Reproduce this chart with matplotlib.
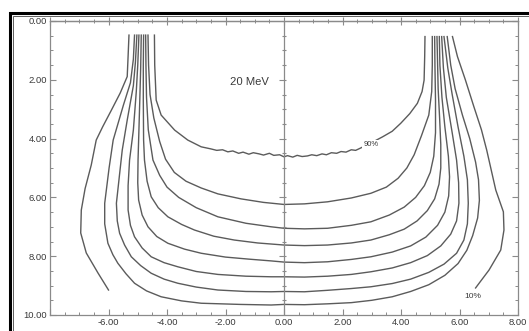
import numpy as np
import matplotlib.pyplot as plt
from matplotlib.lines import Line2D
from matplotlib.ticker import MultipleLocator

plt.rcParams['font.family'] = ['Liberation Sans', 'DejaVu Sans']

# isodose curves, 20 MeV electron beam (x = lateral cm, y = depth cm)
x90 = [-4.43, -4.42, -4.37, -4.20, -3.74, -3.29, -2.83, -2.50, -2.30, -2.10, -1.92, -1.75, -1.55, -1.40, -1.20,
       -1.05, -0.85, -0.70, -0.50, -0.35, -0.15, 0.00, 0.12, 0.30, 0.45, 0.62, 0.80, 0.95, 1.12, 1.30,
       1.45, 1.62, 1.80, 1.95, 2.12, 2.30, 2.45, 2.60, 2.97, 3.37, 3.70, 3.99, 4.30, 4.56, 4.72, 4.79, 4.81, 4.82]
y90 = [0.48, 1.50, 2.69, 3.20, 3.71, 4.05, 4.28, 4.35, 4.40, 4.38, 4.45, 4.42, 4.50, 4.46, 4.53,
       4.48, 4.52, 4.56, 4.50, 4.57, 4.55, 4.62, 4.58, 4.63, 4.57, 4.61, 4.59, 4.55, 4.58, 4.52,
       4.55, 4.48, 4.50, 4.44, 4.46, 4.38, 4.40, 4.33, 4.15, 3.94, 3.75, 3.48, 3.15, 2.80, 2.40, 2.01, 1.20, 0.53]

x80 = [-4.65, -4.63, -4.58, -4.45, -4.25, -4.05, -3.75, -3.35, -2.83, -2.26, -1.47, -0.70, 0.00,
       0.70, 1.49, 2.30, 2.97, 3.50, 3.90, 4.20, 4.45, 4.70, 4.95, 5.05, 5.07, 5.07]
y80 = [0.48, 1.50, 2.50, 3.30, 4.10, 4.70, 5.15, 5.45, 5.68, 5.88, 6.05, 6.17, 6.24,
       6.22, 6.15, 6.02, 5.86, 5.65, 5.35, 5.00, 4.55, 3.90, 3.20, 2.40, 1.50, 0.53]

x70 = [-4.73, -4.72, -4.70, -4.64, -4.48, -4.25, -4.00, -3.60, -3.00, -2.26, -1.30, -0.44, 0.00,
       0.70, 1.49, 2.30, 2.97, 3.60, 4.11, 4.50, 4.80, 5.00, 5.12, 5.18, 5.18, 5.16, 5.15]
y70 = [0.48, 1.50, 2.60, 3.70, 4.73, 5.25, 5.65, 6.00, 6.35, 6.66, 6.88, 7.00, 7.05,
       7.07, 7.05, 6.95, 6.83, 6.60, 6.33, 6.00, 5.60, 5.15, 4.60, 3.80, 2.70, 1.50, 0.53]

x60 = [-4.80, -4.81, -4.81, -4.80, -4.77, -4.68, -4.54, -4.30, -3.97, -3.50, -3.06, -2.40, -1.70, -0.90, 0.00,
       0.70, 1.49, 2.30, 2.97, 3.60, 4.11, 4.55, 4.90, 5.15, 5.30, 5.36, 5.36, 5.32, 5.27, 5.23]
y60 = [0.48, 1.50, 2.69, 4.05, 4.73, 5.45, 5.98, 6.35, 6.66, 6.92, 7.11, 7.32, 7.45, 7.55, 7.62,
       7.64, 7.62, 7.55, 7.45, 7.27, 7.08, 6.80, 6.45, 6.05, 5.55, 5.00, 4.20, 3.30, 2.30, 0.53]

x50 = [-4.88, -4.90, -4.93, -4.97, -4.99, -5.00, -4.97, -4.85, -4.65, -4.35, -3.97, -3.40, -2.83, -2.00, -1.20, -0.44, 0.00,
       0.70, 1.49, 2.30, 2.97, 3.70, 4.33, 4.85, 5.25, 5.50, 5.63, 5.66, 5.62, 5.50, 5.40, 5.33, 5.31]
y50 = [0.48, 1.60, 2.69, 4.05, 4.73, 5.50, 6.09, 6.60, 7.00, 7.33, 7.56, 7.76, 7.90, 8.03, 8.10, 8.16, 8.20,
       8.22, 8.19, 8.11, 8.02, 7.86, 7.65, 7.35, 6.95, 6.50, 5.95, 5.30, 4.60, 3.60, 2.60, 1.50, 0.53]

x40 = [-4.96, -5.00, -5.05, -5.15, -5.28, -5.33, -5.33, -5.25, -5.11, -4.85, -4.54, -4.10, -3.63, -3.00, -2.26, -1.30, -0.44, 0.00,
       0.70, 1.49, 2.30, 2.97, 3.70, 4.33, 4.90, 5.36, 5.70, 5.90, 5.98, 5.97, 5.90, 5.75, 5.55, 5.45, 5.39]
y40 = [0.48, 1.50, 2.40, 3.71, 4.73, 5.60, 6.43, 6.95, 7.34, 7.72, 8.02, 8.22, 8.36, 8.52, 8.62, 8.68, 8.70, 8.70,
       8.71, 8.68, 8.62, 8.53, 8.40, 8.22, 7.98, 7.65, 7.25, 6.80, 6.20, 5.50, 4.73, 3.80, 2.60, 1.60, 0.53]

x30 = [-5.03, -5.08, -5.15, -5.36, -5.53, -5.62, -5.73, -5.70, -5.62, -5.45, -5.22, -4.90, -4.54, -4.10, -3.63, -3.00, -2.26, -1.30, -0.44, 0.00,
       0.70, 1.49, 2.30, 2.97, 3.70, 4.33, 4.95, 5.47, 5.90, 6.15, 6.27, 6.30, 6.27, 6.15, 5.95, 5.75, 5.60, 5.47]
y30 = [0.48, 1.40, 2.20, 3.37, 4.39, 5.20, 6.20, 6.80, 7.22, 7.62, 8.02, 8.32, 8.58, 8.78, 8.92, 9.05, 9.15, 9.20, 9.21, 9.20,
       9.21, 9.16, 9.10, 9.04, 8.93, 8.78, 8.55, 8.27, 7.90, 7.45, 6.90, 6.20, 5.40, 4.60, 3.60, 2.50, 1.60, 0.53]

x20 = [-5.11, -5.15, -5.25, -5.49, -5.84, -5.98, -6.13, -6.13, -6.02, -5.85, -5.68, -5.40, -5.11, -4.70, -4.20, -3.50, -2.83, -1.50, -0.44, 0.00,
       0.70, 1.49, 2.30, 3.00, 3.70, 4.33, 4.95, 5.50, 5.95, 6.25, 6.45, 6.62, 6.68, 6.65, 6.55, 6.35, 6.10, 5.85, 5.70, 5.58]
y20 = [0.48, 1.30, 2.10, 2.86, 4.05, 5.00, 6.20, 6.90, 7.56, 7.95, 8.24, 8.60, 8.92, 9.18, 9.38, 9.52, 9.60, 9.64, 9.66, 9.64,
       9.65, 9.62, 9.58, 9.50, 9.38, 9.20, 8.97, 8.65, 8.25, 7.80, 7.30, 6.70, 6.10, 5.40, 4.80, 4.00, 3.20, 2.30, 1.50, 0.53]

x10_left = [-5.30, -5.33, -5.36, -5.60, -5.90, -6.20, -6.42, -6.59, -6.80, -6.93, -6.95, -6.76, -6.36, -6.00]
y10_left = [0.48, 1.20, 1.89, 2.45, 3.03, 3.60, 4.05, 4.90, 5.70, 6.43, 7.21, 7.89, 8.57, 9.15]
x10_right = [5.76, 5.93, 6.20, 6.49, 6.75, 6.93, 7.24, 7.50, 7.52, 7.41, 7.01, 6.67, 6.55]
y10_right = [0.53, 1.21, 2.00, 2.91, 3.70, 4.39, 5.75, 6.49, 7.11, 7.79, 8.47, 8.92, 9.08]

x_ticks = [-8, -6, -4, -2, 0, 2, 4, 6, 8]
y_ticks = [0, 2, 4, 6, 8, 10]

line_color = '#5b5b5b'
axis_color = '#8a8a8a'
text_color = '#3a3a3a'

fig = plt.figure(figsize=(5.29, 3.31), dpi=100)
ax = fig.add_axes([50 / 529, 1 - 315 / 331, (518 - 50) / 529, (315 - 21) / 331])

curves = [(x90, y90), (x80, y80), (x70, y70), (x60, y60), (x50, y50), (x40, y40),
          (x30, y30), (x20, y20), (x10_left, y10_left), (x10_right, y10_right)]
for xs, ys in curves:
    ax.plot(xs, ys, color=line_color, lw=1.0)

ax.set_xlim(-8, 8)
ax.set_ylim(10, 0)

# central axis with its own little ticks
ax.axvline(0, color=axis_color, lw=0.9)
minor_y = [v for v in np.arange(0.5, 10, 0.5) if v % 2 != 0]
ax.hlines(minor_y, -0.07, 0.07, color=axis_color, lw=0.8)
ax.hlines([2, 4, 6, 8], -0.16, 0.07, color=axis_color, lw=0.8)

ax.set_xticks(x_ticks)
ax.set_xticklabels(['' if v == -8 else f'{v:.2f}' for v in x_ticks])
ax.set_yticks(y_ticks)
ax.set_yticklabels([f'{v:.2f}' for v in y_ticks])
ax.xaxis.set_minor_locator(MultipleLocator(0.5))
ax.yaxis.set_minor_locator(MultipleLocator(0.5))
ax.tick_params(which='both', direction='in', right=True, top=False,
               colors=axis_color, labelcolor=text_color, labelsize=6.8, pad=2)
ax.tick_params(which='major', length=4, width=0.8)
ax.tick_params(which='minor', length=2.2, width=0.7)

top = ax.secondary_xaxis('top')
top.set_xticks(x_ticks)
top.xaxis.set_minor_locator(MultipleLocator(0.5))
top.tick_params(which='both', direction='inout', labeltop=False, colors=axis_color)
top.tick_params(which='major', length=6, width=0.8)
top.tick_params(which='minor', length=3, width=0.7)

for sp in list(ax.spines.values()) + list(top.spines.values()):
    sp.set_color(axis_color)
    sp.set_linewidth(0.9)

ax.text(-1.18, 2.06, '20 MeV', fontsize=8.1, ha='center', va='center', color=text_color)
ax.text(2.97, 4.2, '90%', fontsize=5.5, ha='center', va='center', color=text_color,
        bbox=dict(facecolor='white', edgecolor='none', pad=0.6))
ax.text(6.45, 9.38, '10%', fontsize=6, ha='center', va='center', color=text_color)

# scanned page frame (only left and top edges are on the page)
x0, t0 = 9.5 / 529, 1 - 12.5 / 331
x1, t1 = 12.8 / 529, 1 - 15.5 / 331
fig.add_artist(Line2D([x0, x0, 1], [0, t0, t0], transform=fig.transFigure,
                      color='black', lw=2.2, solid_joinstyle='miter'))
fig.add_artist(Line2D([x1, x1, 1], [0, t1, t1], transform=fig.transFigure,
                      color='#444444', lw=0.6, solid_joinstyle='miter'))

fig.savefig('out.png', dpi=100)
